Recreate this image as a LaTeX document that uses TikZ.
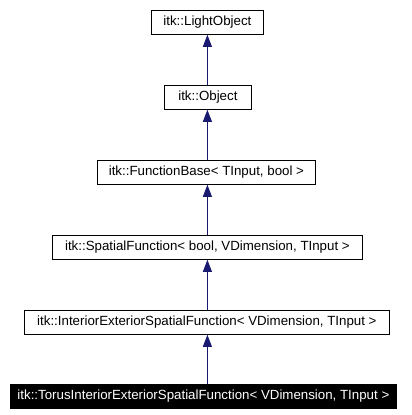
\documentclass[tikz,border=0pt]{standalone}
\usepackage{fontspec}
\setmainfont{Liberation Sans}
\usetikzlibrary{arrows.meta}
\definecolor{navy}{HTML}{191970}
\begin{document}
\begin{tikzpicture}[x=1pt,y=-1pt,
 cls/.style={draw=black, line width=0.8pt, minimum height=24pt, inner sep=0pt, font=\fontsize{13.3}{15}\selectfont, anchor=north west},
 inh/.style={draw=navy, line width=1pt, -{Triangle[length=12pt,width=9pt]}, fill=navy}]
\useasboundingbox (0,0) rectangle (412,415);
\node[cls, minimum width=112pt] (lo) at (151,10) {itk::LightObject};
\node[cls, minimum width=87pt] (o) at (164,85) {itk::Object};
\node[cls, minimum width=218pt] (fb) at (97,160) {itk::FunctionBase< TInput, bool >};
\node[cls, minimum width=310pt] (sf) at (52,235) {itk::SpatialFunction< bool, VDimension, TInput >};
\node[cls, minimum width=365pt] (ie) at (24,310) {itk::InteriorExteriorSpatialFunction< VDimension, TInput >};
\node[cls, minimum width=386pt, fill=black, text=white] (t) at (10,384) {itk::TorusInteriorExteriorSpatialFunction< VDimension, TInput >};
\draw[inh] (lo.south |- o.north) -- (lo.south);
\draw[inh] (lo.south |- fb.north) -- (lo.south |- o.south);
\draw[inh] (lo.south |- sf.north) -- (lo.south |- fb.south);
\draw[inh] (lo.south |- ie.north) -- (lo.south |- sf.south);
\draw[inh] (lo.south |- t.north) -- (lo.south |- ie.south);
\end{tikzpicture}
\end{document}
